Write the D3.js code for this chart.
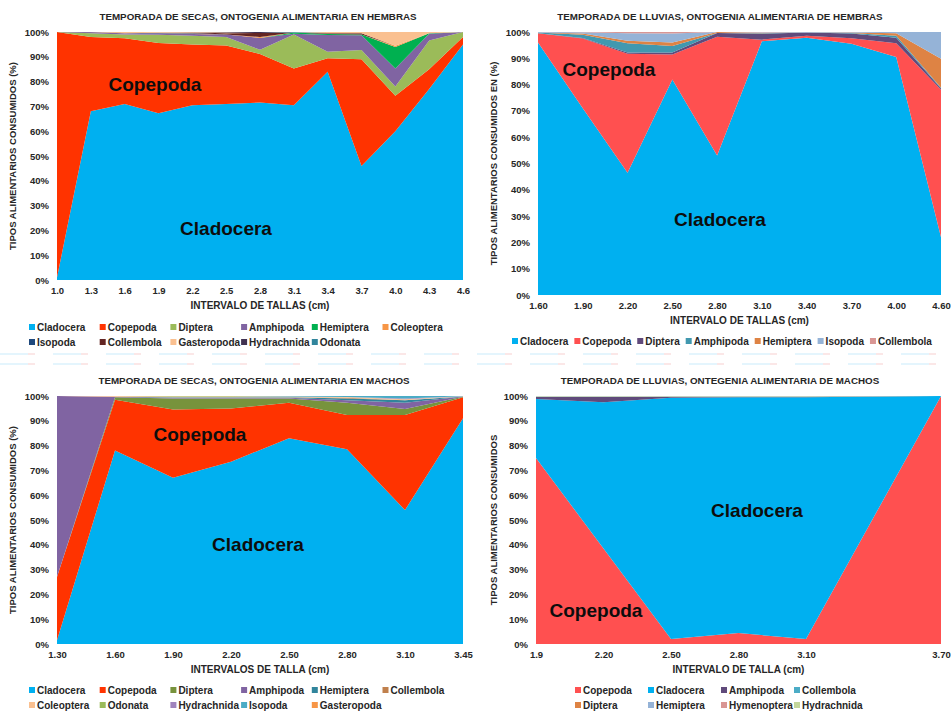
<!DOCTYPE html>
<html>
<head>
<meta charset="utf-8">
<script src="https://cdn.jsdelivr.net/npm/d3@7"></script>
<style>
  body { margin: 0; background: #fff; }
  svg { display: block; font-family: "Liberation Sans", Arial, sans-serif; }
</style>
</head>
<body>
<svg id="chart" width="952" height="713"></svg>
<script>
// ---- Temporada de secas, hembras ----
const secasHembrasTallas = ["1.0","1.3","1.6","1.9","2.2","2.5","2.8","3.1","3.4","3.7","4.0","4.3","4.6"];
const secasHembrasGrupos = ["Cladocera","Copepoda","Diptera","Amphipoda","Hemiptera","Coleoptera","Isopoda","Collembola","Gasteropoda","Hydrachnida","Odonata"];
const secasHembrasColores = ["#00B0F0","#FF3300","#9BBB59","#8064A2","#00B050","#F79646","#1F497D","#632523","#FAC090","#403151","#31859C"];
const shCladocera   = [1, 68, 71, 67, 70.5, 71, 71.5, 70.5, 84, 46, 60, 77, 95];
const shCopepoda    = [99, 30, 26.5, 28.3, 24.5, 23.6, 19.5, 14.8, 5.4, 43, 14.3, 8, 3];
const shDiptera     = [0, 1.5, 1.5, 3.3, 3.5, 3.4, 1.7, 13.7, 2.6, 3.7, 3.7, 11.6, 2];
const shAmphipoda   = [0, 0.4, 0.5, 0.6, 0.7, 1, 4.8, 0.3, 6.8, 6, 7.3, 2.7, 0];
const shHemiptera   = [0, 0, 0, 0, 0, 0, 0, 0.5, 0.4, 0.3, 8.7, 0.2, 0];
const shColeoptera  = [0, 0, 0, 0, 0.2, 0, 0.4, 0, 0, 0, 0.5, 0, 0];
const shIsopoda     = [0, 0, 0, 0.2, 0.2, 0, 0, 0, 0, 0, 0, 0, 0];
const shCollembola  = [0, 0, 0, 0, 0.2, 0.5, 1.6, 0, 0.3, 0.5, 0, 0, 0];
const shGasteropoda = [0, 0, 0.5, 0.3, 0.2, 0.3, 0, 0, 0.5, 0.5, 5.5, 0.5, 0];
const shHydrachnida = [0, 0.1, 0, 0, 0, 0.2, 0.4, 0, 0, 0, 0, 0, 0];
const shOdonata     = [0, 0, 0, 0, 0, 0, 0, 0.2, 0, 0, 0, 0, 0];

// ---- Temporada de lluvias, hembras ----
const lluviasHembrasTallas = ["1.60","1.90","2.20","2.50","2.80","3.10","3.40","3.70","4.00","4.60"];
const lluviasHembrasGrupos = ["Cladocera","Copepoda","Diptera","Amphipoda","Hemiptera","Isopoda","Collembola"];
const lluviasHembrasColores = ["#00B0F0","#FF5050","#604A7B","#4198AF","#DE8344","#95B3D7","#D99694"];
const lhCladocera  = [96, 71, 46.8, 82, 53, 96.5, 97.8, 95.5, 90.5, 22];
const lhCopepoda   = [3.5, 26.5, 45.5, 9.5, 45.2, 0.6, 0.8, 2.1, 5.2, 56];
const lhDiptera    = [0, 0.2, 0.5, 0.8, 1.4, 2.2, 1.2, 1.8, 2.1, 0.5];
const lhAmphipoda  = [0.3, 1.3, 3.5, 2.5, 0, 0.2, 0, 0.2, 0.8, 0.3];
const lhHemiptera  = [0, 0.4, 1, 1.3, 0.4, 0.2, 0, 0.2, 0.9, 11];
const lhIsopoda    = [0.2, 0.5, 2.8, 3.4, 0, 0.2, 0.2, 0.2, 0.5, 10.2];
const lhCollembola = [0, 0.1, 0.5, 0.6, 0, 0.1, 0, 0, 0, 0];

// ---- Temporada de secas, machos ----
const secasMachosTallas = ["1.30","1.60","1.90","2.20","2.50","2.80","3.10","3.45"];
const secasMachosGrupos = ["Cladocera","Copepoda","Diptera","Amphipoda","Hemiptera","Collembola","Coleoptera","Odonata","Hydrachnida","Isopoda","Gasteropoda"];
const secasMachosColores = ["#00B0F0","#FF3300","#77933C","#8064A2","#31859C","#C0804D","#FAC090","#9BBB59","#A084BD","#4BACC6","#F79646"];
const smCladocera   = [1.5, 78, 67, 73.5, 83, 78.5, 54, 91];
const smCopepoda    = [25.5, 20.5, 27.6, 21.5, 14.3, 13.8, 38.3, 8.5];
const smDiptera     = [0, 1, 4.4, 4, 1.7, 5, 2.5, 0.2];
const smAmphipoda   = [73, 0.2, 0.3, 0.3, 0.3, 1, 2.5, 0.1];
const smHemiptera   = [0, 0, 0.2, 0.2, 0.2, 0.7, 1, 0];
const smCollembola  = [0, 0, 0, 0, 0, 0.3, 0, 0];
const smColeoptera  = [0, 0.3, 0.3, 0.3, 0.3, 0.3, 0.4, 0.1];
const smOdonata     = [0, 0, 0.2, 0.2, 0, 0, 0, 0];
const smHydrachnida = [0, 0, 0, 0, 0, 0, 0.3, 0];
const smIsopoda     = [0, 0, 0, 0, 0.2, 0.4, 1, 0.1];
const smGasteropoda = [0, 0, 0, 0, 0, 0, 0, 0];

// ---- Temporada de lluvias, machos ----
const lluviasMachosTallas = [1.9, 2.2, 2.5, 2.8, 3.1, 3.7];
const lluviasMachosEtiquetas = ["1.9","2.20","2.50","2.80","3.10","3.70"];
const lluviasMachosGrupos = ["Copepoda","Cladocera","Amphipoda","Collembola","Diptera","Hemiptera","Hymenoptera","Hydrachnida"];
const lluviasMachosColores = ["#FF5050","#00B0F0","#604A7B","#4BACC6","#DE8344","#95B3D7","#D99694","#C3D69B"];
const lmCopepoda    = [75, 38.5, 2, 4.4, 2, 100];
const lmCladocera   = [23.8, 59, 97.3, 95.1, 97.5, 0];
const lmAmphipoda   = [0.8, 2.1, 0.4, 0.2, 0.2, 0];
const lmCollembola  = [0, 0, 0, 0, 0, 0];
const lmDiptera     = [0, 0, 0, 0, 0, 0];
const lmHemiptera   = [0.2, 0.2, 0.1, 0.1, 0.1, 0];
const lmHymenoptera = [0, 0, 0, 0, 0, 0];
const lmHydrachnida = [0.2, 0.2, 0.2, 0.2, 0.2, 0];

const yTicks = [0,0.1,0.2,0.3,0.4,0.5,0.6,0.7,0.8,0.9,1];

const panels = [
  {
    title: "TEMPORADA DE SECAS, ONTOGENIA ALIMENTARIA EN HEMBRAS", titleX: 258, titleY: 20,
    left: 57, right: 463, top: 32, bottom: 280, xKind: "point",
    x: secasHembrasTallas, labels: secasHembrasTallas,
    groups: secasHembrasGrupos, colors: secasHembrasColores,
    series: [shCladocera, shCopepoda, shDiptera, shAmphipoda, shHemiptera, shColeoptera, shIsopoda, shCollembola, shGasteropoda, shHydrachnida, shOdonata],
    yTitle: "TIPOS ALIMENTARIOS CONSUMIDOS (%)", yTitleX: 16,
    xTitle: "INTERVALO DE TALLAS (cm)", xTickY: 296, xTitleY: 309,
    legend: { kind: "grid", x: 29, y: 327, colW: 70.7, cols: 6 },
    notes: [{ text: "Copepoda", x: 155, y: 91 }, { text: "Cladocera", x: 226, y: 235 }]
  },
  {
    title: "TEMPORADA DE LLUVIAS, ONTOGENIA ALIMENTARIA DE HEMBRAS", titleX: 720, titleY: 20,
    left: 538, right: 941, top: 32, bottom: 295, xKind: "point",
    x: lluviasHembrasTallas, labels: lluviasHembrasTallas,
    groups: lluviasHembrasGrupos, colors: lluviasHembrasColores,
    series: [lhCladocera, lhCopepoda, lhDiptera, lhAmphipoda, lhHemiptera, lhIsopoda, lhCollembola],
    yTitle: "TIPOS ALIMENTARIOS CONSUMIDOS EN (%)", yTitleX: 497,
    xTitle: "INTERVALO DE TALLAS (cm)", xTickY: 311, xTitleY: 324,
    legend: { kind: "flow", x: 512, y: 341, gap: 6 },
    notes: [{ text: "Copepoda", x: 609, y: 76 }, { text: "Cladocera", x: 720, y: 226 }]
  },
  {
    title: "TEMPORADA DE SECAS, ONTOGENIA ALIMENTARIA EN MACHOS", titleX: 254, titleY: 384,
    left: 57, right: 463, top: 396, bottom: 644, xKind: "point",
    x: secasMachosTallas, labels: secasMachosTallas,
    groups: secasMachosGrupos, colors: secasMachosColores,
    series: [smCladocera, smCopepoda, smDiptera, smAmphipoda, smHemiptera, smCollembola, smColeoptera, smOdonata, smHydrachnida, smIsopoda, smGasteropoda],
    yTitle: "TIPOS ALIMENTARIOS CONSUMIDOS (%)", yTitleX: 16,
    xTitle: "INTERVALOS DE TALLA (cm)", xTickY: 660, xTitleY: 673,
    legend: { kind: "grid", x: 29, y: 690, colW: 70.7, cols: 6 },
    notes: [{ text: "Copepoda", x: 200, y: 441 }, { text: "Cladocera", x: 258, y: 551 }]
  },
  {
    title: "TEMPORADA DE LLUVIAS, ONTEGENIA ALIMENTARIA DE MACHOS", titleX: 720, titleY: 384,
    left: 536, right: 941, top: 396, bottom: 644, xKind: "linear",
    x: lluviasMachosTallas, labels: lluviasMachosEtiquetas,
    groups: lluviasMachosGrupos, colors: lluviasMachosColores,
    series: [lmCopepoda, lmCladocera, lmAmphipoda, lmCollembola, lmDiptera, lmHemiptera, lmHymenoptera, lmHydrachnida],
    yTitle: "TIPOS ALIMENTARIOS CONSUMIDOS", yTitleX: 497,
    xTitle: "INTERVALO DE TALLA (cm)", xTickY: 660, xTitleY: 673,
    legend: { kind: "grid", x: 575, y: 690, colW: 73, cols: 4 },
    notes: [{ text: "Cladocera", x: 757, y: 517 }, { text: "Copepoda", x: 596, y: 617 }]
  }
];

const svg = d3.select("#chart");
const textColor = "#262626";

panels.forEach(p => {
  const g = svg.append("g");

  const x = p.xKind === "linear"
    ? d3.scaleLinear().domain(d3.extent(p.x)).range([p.left, p.right])
    : d3.scalePoint().domain(p.x).range([p.left, p.right]);
  const y = d3.scaleLinear().domain([0, 1]).range([p.bottom, p.top]);

  // rows keyed by group name, one per size class
  const rows = p.x.map((xv, i) => {
    const r = { x: xv };
    p.groups.forEach((name, k) => { r[name] = p.series[k][i]; });
    return r;
  });
  const stack = d3.stack().keys(p.groups).offset(d3.stackOffsetExpand);
  const layers = stack(rows);

  const area = d3.area()
    .x(d => x(d.data.x))
    .y0(d => y(d[0]))
    .y1(d => y(d[1]));

  g.selectAll("path.layer").data(layers).join("path")
    .attr("class", "layer")
    .attr("d", area)
    .attr("fill", (d, i) => p.colors[i]);

  // y axis
  const yAxis = d3.axisLeft(y).tickValues(yTicks).tickFormat(d3.format(".0%")).tickSize(0).tickPadding(8);
  const ya = g.append("g").attr("transform", `translate(${p.left},0)`).call(yAxis);
  ya.select(".domain").remove();
  ya.selectAll("text").attr("font-size", 9.5).attr("font-weight", "bold").attr("fill", textColor)
    .attr("font-family", "Liberation Sans, Arial, sans-serif");

  // x axis
  const xAxis = d3.axisBottom(x).tickValues(p.x).tickFormat((d, i) => p.labels[i]).tickSize(0).tickPadding(0);
  const xa = g.append("g").attr("transform", `translate(0,${p.xTickY - 9})`).call(xAxis);
  xa.select(".domain").remove();
  xa.selectAll("text").attr("font-size", 9.5).attr("font-weight", "bold").attr("fill", textColor)
    .attr("font-family", "Liberation Sans, Arial, sans-serif");

  // titles
  g.append("text").attr("x", p.titleX).attr("y", p.titleY).attr("text-anchor", "middle")
    .attr("font-size", 9.8).attr("font-weight", "bold").attr("fill", textColor).text(p.title);
  g.append("text").attr("x", (p.left + p.right) / 2).attr("y", p.xTitleY).attr("text-anchor", "middle")
    .attr("font-size", 10).attr("font-weight", "bold").attr("fill", textColor).text(p.xTitle);
  g.append("text")
    .attr("transform", `translate(${p.yTitleX},${(p.top + p.bottom) / 2}) rotate(-90)`)
    .attr("text-anchor", "middle").attr("font-size", 9.5).attr("font-weight", "bold")
    .attr("fill", textColor).text(p.yTitle);

  // labels inside the areas
  p.notes.forEach(n => {
    g.append("text").attr("x", n.x).attr("y", n.y).attr("text-anchor", "middle")
      .attr("font-size", 19).attr("font-weight", "bold").attr("fill", "#0d0d0d").text(n.text);
  });

  // legend
  const lg = g.append("g");
  let cx = p.legend.x;
  p.groups.forEach((name, k) => {
    let lx, ly;
    if (p.legend.kind === "grid") {
      lx = p.legend.x + (k % p.legend.cols) * p.legend.colW;
      ly = p.legend.y + Math.floor(k / p.legend.cols) * 15;
    } else {
      lx = cx; ly = p.legend.y;
    }
    lg.append("rect").attr("x", lx).attr("y", ly - 3).attr("width", 6).attr("height", 6).attr("fill", p.colors[k]);
    const t = lg.append("text").attr("x", lx + 8).attr("y", ly + 3.5)
      .attr("font-size", 10).attr("font-weight", "bold").attr("fill", textColor).text(name);
    if (p.legend.kind === "flow") cx = lx + 8 + t.node().getComputedTextLength() + p.legend.gap;
  });
});

// faint dashed separators between the upper and lower charts
[354, 364].forEach(yy => {
  svg.append("line").attr("x1", 0).attr("x2", 952).attr("y1", yy).attr("y2", yy)
    .attr("stroke", "#c9ecfb").attr("stroke-width", 1.2).attr("stroke-dasharray", "28 25");
  svg.append("line").attr("x1", 28).attr("x2", 952).attr("y1", yy).attr("y2", yy)
    .attr("stroke", "#f7d0d0").attr("stroke-width", 1.2).attr("stroke-dasharray", "7 46");
});
</script>
</body>
</html>
